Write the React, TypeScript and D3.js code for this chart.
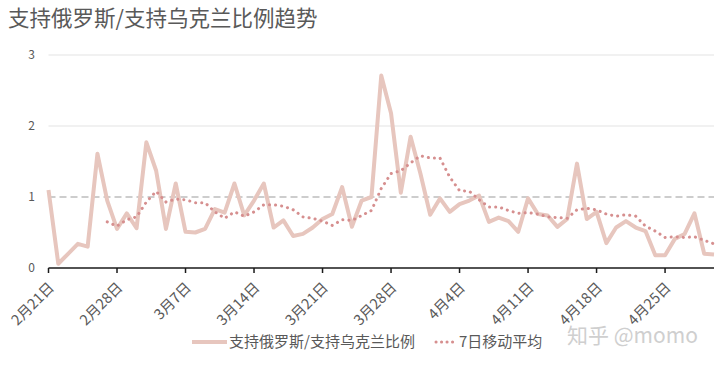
import React from "react";
import * as d3 from "d3";

const TITLE = "支持俄罗斯/支持乌克兰比例趋势";
const SERIES_MAIN = "支持俄罗斯/支持乌克兰比例";
const SERIES_MA = "7日移动平均";
const WATERMARK = "知乎 @momo";

// Feb 21 .. Apr 30, one value per day
const dates: Date[] = d3.timeDay.range(new Date(2022, 1, 21), new Date(2022, 4, 1));

const ratio: number[] = [
  1.10, 0.06, 0.20, 0.34, 0.30, 1.61, 0.95, 0.55, 0.77, 0.56,
  1.77, 1.37, 0.55, 1.19, 0.51, 0.50, 0.55, 0.83, 0.78, 1.19,
  0.74, 0.95, 1.19, 0.57, 0.67, 0.45, 0.48, 0.57, 0.69, 0.76,
  1.14, 0.58, 0.95, 1.00, 2.71, 2.18, 1.06, 1.85, 1.33, 0.75,
  0.98, 0.79, 0.90, 0.95, 1.02, 0.65, 0.71, 0.66, 0.51, 0.98,
  0.76, 0.74, 0.58, 0.69, 1.47, 0.69, 0.79, 0.35, 0.57, 0.66,
  0.57, 0.52, 0.18, 0.18, 0.41, 0.48, 0.77, 0.20, 0.19,
];

const ma7: (number | null)[] = [
  null, null, null, null, null, null, 0.65, 0.59, 0.68, 0.72,
  0.93, 1.08, 0.93, 0.97, 0.96, 0.92, 0.92, 0.79, 0.70, 0.79,
  0.73, 0.79, 0.89, 0.89, 0.87, 0.82, 0.72, 0.70, 0.66, 0.60,
  0.68, 0.67, 0.74, 0.81, 1.12, 1.33, 1.37, 1.48, 1.58, 1.55,
  1.55, 1.28, 1.09, 1.08, 0.96, 0.86, 0.86, 0.81, 0.77, 0.78,
  0.76, 0.72, 0.71, 0.70, 0.82, 0.84, 0.82, 0.76, 0.73, 0.75,
  0.73, 0.59, 0.52, 0.43, 0.44, 0.43, 0.44, 0.39, 0.34,
];

const yTicks: number[] = [0, 1, 2, 3];
const refValue = 1;
const tickLabels: string[] = [
  "2月21日", "2月28日", "3月7日", "3月14日", "3月21日",
  "3月28日", "4月4日", "4月11日", "4月18日", "4月25日",
];
const tickEvery = 7;

const W = 720;
const H = 365;
const FONT = "'Noto Sans CJK SC', 'Noto Sans', sans-serif";
const TEXT = "#595959";
const MAIN_COLOR = "#e7c6be";
const MA_COLOR = "#d68f8f";

export default function App() {
  const x = d3
    .scaleTime()
    .domain([dates[0], dates[dates.length - 1]])
    .range([48.5, 714]);
  const y = d3.scaleLinear().domain([0, 3]).range([268, 55]);

  const mainLine = d3
    .line<number>()
    .x((_, i) => x(dates[i]))
    .y((d) => y(d));
  const maLine = d3
    .line<number | null>()
    .defined((d) => d !== null)
    .x((_, i) => x(dates[i]))
    .y((d) => y(d as number));

  const tickDates = tickLabels.map((_, i) => dates[i * tickEvery]);

  return (
    <svg
      width={W}
      height={H}
      style={{ position: "absolute", left: 0, top: 0, background: "#fff" }}
      fontFamily={FONT}
    >
      <rect width={W} height={H} fill="#fff" />
      <text x={8} y={26} fontSize={21.5} fill={TEXT}>
        {TITLE}
      </text>

      {/* gridlines */}
      {yTicks
        .filter((t) => t !== 0 && t !== refValue)
        .map((t) => (
          <line
            key={t}
            x1={x.range()[0]}
            x2={x.range()[1]}
            y1={y(t)}
            y2={y(t)}
            stroke="#e3e3e3"
            strokeWidth={1}
          />
        ))}
      {/* y labels */}
      {yTicks.map((t) => (
        <text
          key={t}
          x={35}
          y={y(t)}
          dy="0.35em"
          textAnchor="end"
          fontSize={12}
          fill={TEXT}
        >
          {t}
        </text>
      ))}

      {/* reference dashed line at 1 */}
      <line
        x1={x.range()[0]}
        x2={x.range()[1]}
        y1={y(refValue)}
        y2={y(refValue)}
        stroke="#bdbdbd"
        strokeWidth={1.5}
        strokeDasharray="7 4"
      />

      {/* main series */}
      <path
        d={mainLine(ratio) || ""}
        fill="none"
        stroke={MAIN_COLOR}
        strokeWidth={4}
        strokeLinejoin="round"
      />
      {/* moving average */}
      <path
        d={maLine(ma7) || ""}
        fill="none"
        stroke={MA_COLOR}
        strokeWidth={3}
        strokeDasharray="0.1 6"
        strokeLinecap="round"
      />

      {/* x axis */}
      <line
        x1={x.range()[0]}
        x2={x.range()[1]}
        y1={y(0)}
        y2={y(0)}
        stroke="#1a1a1a"
        strokeWidth={1.5}
      />
      {tickDates.map((d, i) => (
        <g key={i} transform={`translate(${x(d)},${y(0)})`}>
          <line y1={0} y2={5} stroke="#1a1a1a" strokeWidth={1.5} />
          <text
            transform="translate(3,17) rotate(-45)"
            textAnchor="end"
            dy="0.35em"
            fontSize={14.5}
            fill={TEXT}
          >
            {tickLabels[i]}
          </text>
        </g>
      ))}

      {/* watermark */}
      <text x={567} y={343} fontSize={21} fill="#cfcfcf">
        {WATERMARK}
      </text>

      {/* legend */}
      <line x1={192} x2={227} y1={342} y2={342} stroke={MAIN_COLOR} strokeWidth={4} />
      <text x={229} y={342} dy="0.35em" fontSize={15} fill={TEXT}>
        {SERIES_MAIN}
      </text>
      <line
        x1={436}
        x2={458}
        y1={342}
        y2={342}
        stroke={MA_COLOR}
        strokeWidth={3}
        strokeDasharray="0.1 5.4"
        strokeLinecap="round"
      />
      <text x={459} y={342} dy="0.35em" fontSize={15} fill={TEXT}>
        {SERIES_MA}
      </text>
    </svg>
  );
}
